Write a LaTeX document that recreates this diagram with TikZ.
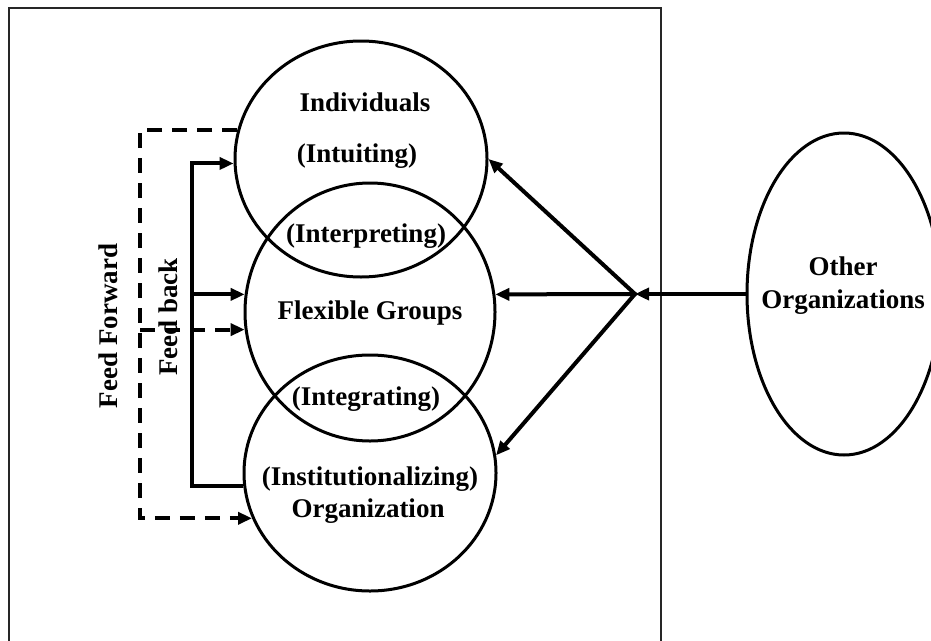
\documentclass[tikz,border=0pt]{standalone}
\usepackage{fontspec}
\setmainfont{Liberation Serif}
\usetikzlibrary{shapes.geometric,arrows.meta}
\begin{document}
\begin{tikzpicture}[x=1pt,y=-1pt,
  stage/.style={ellipse,draw,line width=3pt,inner sep=0pt},
  lbl/.style={font=\fontsize{27pt}{32pt}\selectfont\bfseries,inner sep=0pt,align=center},
  link/.style={line width=4pt},
  tip/.style={-{Triangle[length=14pt,width=12pt]}},
  dashlink/.style={line width=4pt,dash pattern=on 15pt off 10pt},
]
\clip (0,0) rectangle (931,640);
\fill[white] (0,0) rectangle (931,640);

% frame around the organisation
\draw[line width=1.3pt,black!85] (9,700) -- (9,8) -- (661,8) -- (661,700);

% learning levels
\node[stage,minimum width=252pt,minimum height=236pt] (ind) at (361,159) {};
\node[stage,minimum width=250pt,minimum height=258pt] (grp) at (370,312) {};
\node[stage,minimum width=252pt,minimum height=236pt] (org) at (370,473) {};
\node[stage,minimum width=194pt,minimum height=322pt] (oth) at (844,294) {};

% helper points
\coordinate (hub) at (635,294);
\coordinate (fbx) at (192,0);
\coordinate (ffx) at (140,0);

% inputs from other organisations
\draw[link,tip] (oth.west) -- (hub);
\draw[link,tip,line cap=round] (hub) -- (ind.east);
\draw[link,tip,line cap=round] (hub) -- (grp.8);
\draw[link,tip,line cap=round] (hub) -- (org.8);

% feed back
\draw[link,tip] (org.186) -| (fbx |- ind.182) -- (ind.182);
\draw[link,tip] (fbx |- grp.172) -- (grp.172);

% feed forward
\draw[dashlink,tip] (ind.167) -| (ffx |- org.201) -- (org.201);
\draw[dashlink,tip] (ffx |- grp.188) -- (grp.188);

% labels
\node[lbl,anchor=base] (tInd) at (365,111) {Individuals};
\node[lbl,anchor=base] (tIntu) at (357,162) {(Intuiting)};
\node[lbl,anchor=base] (tInte) at (366,242) {(Interpreting)};
\node[lbl,anchor=base] (tGrp) at (370,319) {Flexible Groups};
\node[lbl,anchor=base] (tIntg) at (366,405) {(Integrating)};
\node[lbl,anchor=base] (tInst) at (370,485) {(Institutionalizing)};
\node[lbl,anchor=base] (tOrg) at (368,517) {Organization};
\node[lbl,anchor=base] (tOth) at (843,275) {Other};
\node[lbl,anchor=base] (tOths) at (843,308) {Organizations};
\node[lbl,rotate=90] (tFF) at (108,326) {Feed Forward};
\node[lbl,rotate=90] (tFB) at (168,317) {Feed back};
\end{tikzpicture}
\end{document}
